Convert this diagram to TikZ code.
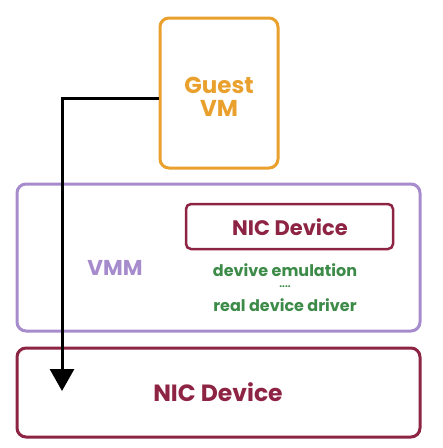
\documentclass[tikz,border=0pt]{standalone}
\usepackage{fontspec}
\setmainfont{Poppins}
\usetikzlibrary{arrows.meta}
\definecolor{gorange}{HTML}{E9A02C}
\definecolor{vpurple}{HTML}{A68CCC}
\definecolor{nicred}{HTML}{8E2443}
\definecolor{dgreen}{HTML}{3D8B48}
\tikzset{
  box/.style={draw, line width=3pt, rounded corners=9pt, inner sep=0pt},
  lbl/.style={font=\bfseries, inner sep=0pt},
}
\begin{document}
\begin{tikzpicture}[x=1pt,y=-1pt]
\useasboundingbox (0,0) rectangle (443,448);
\node[box, draw=gorange, minimum width=118pt, minimum height=150pt] (guest) at (219,93) {};
\node[lbl, text=gorange, font=\fontsize{23}{23}\selectfont\bfseries, align=center] (guestt) at (219,97) {Guest\\VM};
\node[box, draw=vpurple, minimum width=403pt, minimum height=147pt] (vmm) at (218.5,257.5) {};
\node[lbl, text=vpurple, font=\fontsize{21.5}{23}\selectfont\bfseries] (vmmt) at (115,268) {VMM};
\node[box, draw=nicred, line width=2.5pt, rounded corners=5pt, minimum width=207pt, minimum height=45pt] (nic1) at (289.5,226.5) {};
\node[lbl, text=nicred, font=\fontsize{21}{23}\selectfont\bfseries] (nic1t) at (290,227) {NIC Device};
\node[lbl, text=dgreen, font=\fontsize{16}{18}\selectfont\bfseries] (emu) at (285,270) {devive emulation};
\node[lbl, text=dgreen, font=\fontsize{10}{12}\selectfont\bfseries] (dots) at (285,287) {....};
\node[lbl, text=dgreen, font=\fontsize{16}{18}\selectfont\bfseries] (drv) at (285,305) {real device driver};
\node[box, draw=nicred, minimum width=403pt, minimum height=89pt] (nic2) at (218.5,392.5) {};
\node[lbl, text=nicred, font=\fontsize{23.5}{25}\selectfont\bfseries] (nic2t) at (218,392) {NIC Device};
\coordinate (tip) at (62,391);
\draw[line width=3pt, -{Triangle[length=22pt,width=24pt]}] (guest.west |- 0,98) -- (62,98) -- (tip);
\end{tikzpicture}
\end{document}
